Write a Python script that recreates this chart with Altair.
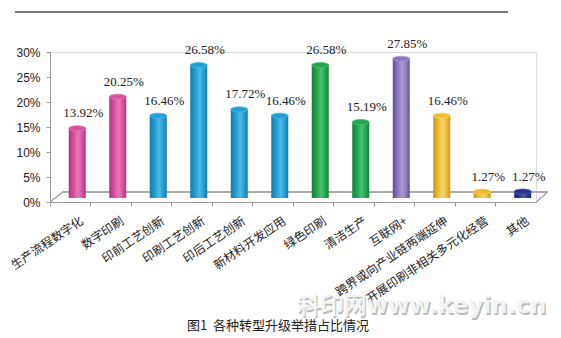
import altair as alt
import pandas as pd

categories = ["生产流程数字化", "数字印刷", "印前工艺创新", "印刷工艺创新", "印后工艺创新",
              "新材料开发应用", "绿色印刷", "清洁生产", "互联网+", "跨界或向产业链两端延伸",
              "开展印刷非相关多元化经营", "其他"]
values = [13.92, 20.25, 16.46, 26.58, 17.72, 16.46, 26.58, 15.19, 27.85, 16.46, 1.27, 1.27]
groups = ["pink", "pink", "blue", "blue", "blue", "blue", "green", "green", "purple",
          "yellow", "yellow", "navy"]
y_ticks = [0, 5, 10, 15, 20, 25, 30]

title_text = "图1\u00a0\u00a0各种转型升级举措占比情况"
watermark_text = "科印网www.keyin.cn"

palette = {
    "pink": ("#b0357a", "#d94f9e", "#e27ab5"),
    "blue": ("#1879a8", "#1f9fd4", "#4fb8e4"),
    "green": ("#15803c", "#22a650", "#4cc074"),
    "purple": ("#5f4e96", "#8c78bd", "#ab9bd2"),
    "yellow": ("#c9931a", "#eebb30", "#f5d36e"),
    "navy": ("#1a2568", "#27358f", "#4a58b0"),
}

df = pd.DataFrame({"cat": categories, "val": values, "grp": groups})
df["label"] = df["val"].map(lambda v: f"{v:.2f}%")

W, H = 486, 150

xenc = alt.X("cat:N", sort=categories,
             scale=alt.Scale(paddingInner=0, paddingOuter=0),
             axis=alt.Axis(title=None, labelAngle=-34, labelFont="Noto Sans CJK SC",
                           labelFontSize=12, labelColor="#222", labelOffset=9,
                           labelPadding=9, bandPosition=0, tickSize=4,
                           tickColor="#999", domainColor="#999", labelLimit=300))
yenc = alt.Y("val:Q", scale=alt.Scale(domain=[0, 30], nice=False),
             axis=alt.Axis(title=None, values=y_ticks, labelExpr="datum.value + '%'",
                           labelFont="Liberation Sans", labelFontSize=12,
                           labelColor="#222", tickSize=4, tickColor="#999",
                           domainColor="#999", grid=False, labelPadding=6))

base = alt.Chart(df)

layers = []
# floor decoration
layers.append(alt.Chart(df).mark_rule(color="#aaa", strokeWidth=1).encode(
    x=alt.value(0), y=alt.value(H), x2=alt.value(13), y2=alt.value(H - 10)))
layers.append(alt.Chart(df).mark_rule(color="#aaa", strokeWidth=1).encode(
    x=alt.value(13), y=alt.value(H - 10), x2=alt.value(W + 12), y2=alt.value(H - 10)))
layers.append(alt.Chart(df).mark_rule(color="#aaa", strokeWidth=1).encode(
    x=alt.value(W + 12), y=alt.value(H - 10), x2=alt.value(W), y2=alt.value(H)))

for g, (dark, mid, light) in palette.items():
    grad = alt.Gradient(gradient="linear", x1=0, x2=1, y1=0, y2=0,
                        stops=[alt.GradientStop(color=dark, offset=0),
                               alt.GradientStop(color=mid, offset=0.3),
                               alt.GradientStop(color=light, offset=0.55),
                               alt.GradientStop(color=mid, offset=0.8),
                               alt.GradientStop(color=dark, offset=1)])
    sub = base.transform_filter(alt.datum.grp == g)
    layers.append(sub.mark_bar(size=17, xOffset=7, yOffset=-4, color=grad, clip=False).encode(
        x=xenc, y=yenc))
    layers.append(sub.mark_point(
        shape="M -1 0 A 1 0.3 0 1 0 1 0 A 1 0.3 0 1 0 -1 0 Z",
        size=289, filled=True, opacity=1, color=mid, stroke=light, strokeWidth=0.8,
        xOffset=7, yOffset=-4).encode(x=xenc, y=yenc))

layers.append(base.mark_text(font="Liberation Serif", fontSize=13, color="#222",
                             dx=13, dy=-19).encode(x=xenc, y=yenc, text="label:N"))

# top rule
layers.append(alt.Chart(df).mark_rule(color="#777", strokeWidth=1.5).encode(
    x=alt.value(-35), x2=alt.value(458), y=alt.value(-40)))

# watermark
layers.append(alt.Chart(pd.DataFrame({"t": [watermark_text]})).mark_text(
    font="DejaVu Sans", fontWeight="bold", fontSize=23, color="#bbb", dx=1.5, dy=1.5).encode(
    x=alt.value(372), y=alt.value(254), text="t:N"))
layers.append(alt.Chart(pd.DataFrame({"t": [watermark_text]})).mark_text(
    font="DejaVu Sans", fontWeight="bold", fontSize=23, color="#f4f4f4").encode(
    x=alt.value(372), y=alt.value(254), text="t:N"))

# caption
layers.append(alt.Chart(pd.DataFrame({"t": [title_text]})).mark_text(
    font="Noto Sans CJK SC", fontSize=13, color="#222").encode(
    x=alt.value(228), y=alt.value(274), text="t:N"))

chart = alt.layer(*layers).properties(
    width=W, height=H,
    autosize=alt.AutoSizeParams(type="none"),
    padding={"left": 50, "top": 52, "right": 25, "bottom": 136},
).configure_view(stroke=None).configure(background="white")

chart.save("out.html", embed_options={"renderer": "svg", "actions": False})
